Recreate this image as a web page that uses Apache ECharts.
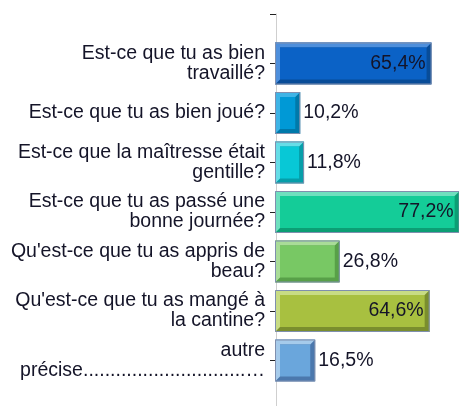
<!DOCTYPE html>
<html>
<head>
<meta charset="utf-8">
<script src="https://cdn.jsdelivr.net/npm/echarts@6/dist/echarts.min.js"></script>
<style>
  html, body { margin: 0; padding: 0; background: #fff; }
  #chart { width: 459px; height: 406px; }
</style>
</head>
<body>
<div id="chart"></div>
<script>
// Questions (top to bottom) and the share of answers for each
const categories = [
  'Est-ce que tu as bien\ntravaillé?',
  'Est-ce que tu as bien joué?',
  'Est-ce que la maîtresse était\ngentille?',
  'Est-ce que tu as passé une\nbonne journée?',
  "Qu'est-ce que tu as appris de\nbeau?",
  "Qu'est-ce que tu as mangé à\nla cantine?",
  'autre\nprécise..............................…'
];
const values = [65.4, 10.2, 11.8, 77.2, 26.8, 64.6, 16.5];

// Bevelled bar palette: face, light edge (top/left), dark edge (bottom/right)
const faceColors  = ['#0b62c6', '#0099d6', '#08c8d6', '#14cc98', '#78c864', '#a8c040', '#6aa6dc'];
const lightColors = ['#4e8fdc', '#3fb4e6', '#66dde7', '#6ee0bf', '#a9dc98', '#c8dc84', '#a6cbeb'];
const darkColors  = ['#084c98', '#0079aa', '#069ea9', '#0c9e74', '#58a048', '#7a8e2e', '#4b78ad'];

const FONT_FAMILY = '"Liberation Sans", Arial, sans-serif';
const FONT = '19.5px ' + FONT_FAMILY;

const chart = echarts.init(document.getElementById('chart'), null, { renderer: 'canvas' });

const yCats = [''].concat(categories, ['']);
const seriesData = values.map((v, i) => [v, i + 1]);

function renderBar(params, api) {
  const idx = params.dataIndex;
  const v = api.value(0);
  const c = api.value(1);
  const p0 = api.coord([0, c]);
  const p1 = api.coord([v, c]);
  const x0 = p0[0] - 1, x1 = p1[0], cy = p0[1];
  const h = 42, b = 5;
  const y0 = cy - h / 2, y1 = cy + h / 2;
  const w = x1 - x0;
  const label = v.toFixed(1).replace('.', ',') + '%';
  const inside = v >= 50;
  return {
    type: 'group',
    children: [
      { type: 'rect', shape: { x: x0, y: y0, width: w, height: h },
        style: { fill: darkColors[idx] } },
      { type: 'polygon',
        shape: { points: [[x0, y0], [x1, y0], [x1 - b, y0 + b], [x0 + b, y0 + b], [x0 + b, y1 - b], [x0, y1]] },
        style: { fill: lightColors[idx] } },
      { type: 'rect', shape: { x: x0 + b, y: y0 + b, width: w - 2 * b, height: h - 2 * b },
        style: { fill: faceColors[idx] } },
      { type: 'rect', shape: { x: x0 + 0.5, y: y0 + 0.5, width: w - 1, height: h - 1 },
        style: { fill: 'none', stroke: '#7f8fae', lineWidth: 1 } },
      { type: 'text',
        style: {
          text: label,
          x: inside ? x1 - 6 : x1 + 3,
          y: cy,
          align: inside ? 'right' : 'left',
          verticalAlign: 'middle',
          font: FONT,
          fill: '#141428'
        } }
    ]
  };
}

chart.setOption({
  animation: false,
  backgroundColor: '#ffffff',
  grid: {
    left: 276, top: 14, width: 190.3, height: 396,
    containLabel: false,
    outerBoundsMode: 'none'
  },
  xAxis: {
    type: 'value', min: 0, max: 80, show: false,
    splitLine: { show: false }
  },
  yAxis: {
    type: 'category',
    inverse: true,
    boundaryGap: false,
    data: yCats,
    axisLine: { show: true, lineStyle: { color: '#cfcfcf', width: 1 } },
    axisTick: { show: true, length: 6, lineStyle: { color: '#222', width: 1 } },
    axisLabel: {
      margin: 11,
      interval: 0,
      align: 'right',
      color: '#141428',
      fontFamily: FONT_FAMILY,
      fontSize: 19.5,
      lineHeight: 20
    },
    splitLine: { show: false }
  },
  series: [{
    type: 'custom',
    renderItem: renderBar,
    encode: { x: 0, y: 1 },
    data: seriesData,
    clip: false
  }]
});
</script>
</body>
</html>
